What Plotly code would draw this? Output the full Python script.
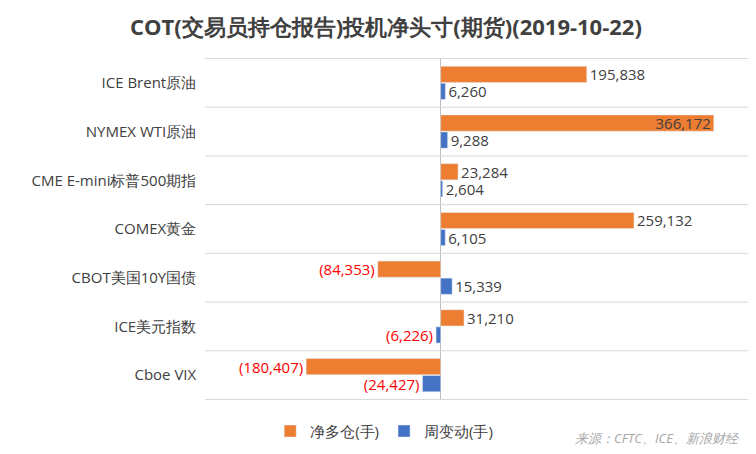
import plotly.graph_objects as go

categories = ["ICE Brent原油", "NYMEX WTI原油", "CME E-mini标普500期指", "COMEX黄金",
              "CBOT美国10Y国债", "ICE美元指数", "Cboe VIX"]
net_long = [195838, 366172, 23284, 259132, -84353, 31210, -180407]
weekly_change = [6260, 9288, 2604, 6105, 15339, -6226, -24427]


def fmt(v):
    return f"({abs(v):,})" if v < 0 else f"{v:,}"


def colors(vals):
    return ["#FF0000" if v < 0 else "#404040" for v in vals]


fig = go.Figure()
fig.add_trace(go.Bar(y=categories, x=net_long, orientation="h", name="净多仓(手)",
                     marker_color="#ED7D31", text=[fmt(v) for v in net_long],
                     textposition=["inside" if v > 300000 else "outside" for v in net_long],
                     insidetextanchor="end", constraintext="none", cliponaxis=False,
                     textfont=dict(size=15, color=colors(net_long))))
fig.add_trace(go.Bar(y=categories, x=weekly_change, orientation="h", name="周变动(手)",
                     marker_color="#4472C4", text=[fmt(v) for v in weekly_change],
                     textposition="outside", constraintext="none", cliponaxis=False,
                     textfont=dict(size=15, color=colors(weekly_change))))

for i in range(len(categories) + 1):
    fig.add_shape(type="line", xref="paper", x0=0, x1=1, yref="y",
                  y0=i - 0.5, y1=i - 0.5, line=dict(color="#D9D9D9", width=1))

fig.update_layout(
    width=756, height=454, paper_bgcolor="white", plot_bgcolor="white",
    font=dict(family="Open Sans", size=15, color="#404040"),
    title=dict(text="<b>COT(交易员持仓报告)投机净头寸(期货)(2019-10-22)</b>",
               x=0.5, xanchor="center", yref="container", y=0.975,
               font=dict(size=22, color="#404040")),
    barmode="group", bargap=0.3, bargroupgap=0.05,
    margin=dict(l=197, r=16, t=50, b=62, autoexpand=False),
    xaxis=dict(range=[-316000, 412000], showgrid=False, showticklabels=False,
               zeroline=True, zerolinecolor="#BFBFBF", zerolinewidth=1,
               automargin=False),
    yaxis=dict(autorange="reversed", showgrid=False, ticks="", ticksuffix="  ",
               automargin=False),
    legend=dict(orientation="h", x=0.33, xanchor="center", yref="container",
                y=0.104, yanchor="top", font=dict(size=15)),
)
fig.add_annotation(text="<i>来源：CFTC、ICE、新浪财经</i>", xref="paper", yref="paper",
                   x=0.989, y=-0.08, xanchor="right", yanchor="top", showarrow=False,
                   font=dict(size=13, color="#A6A6A6"))
fig.write_html("out.html")
